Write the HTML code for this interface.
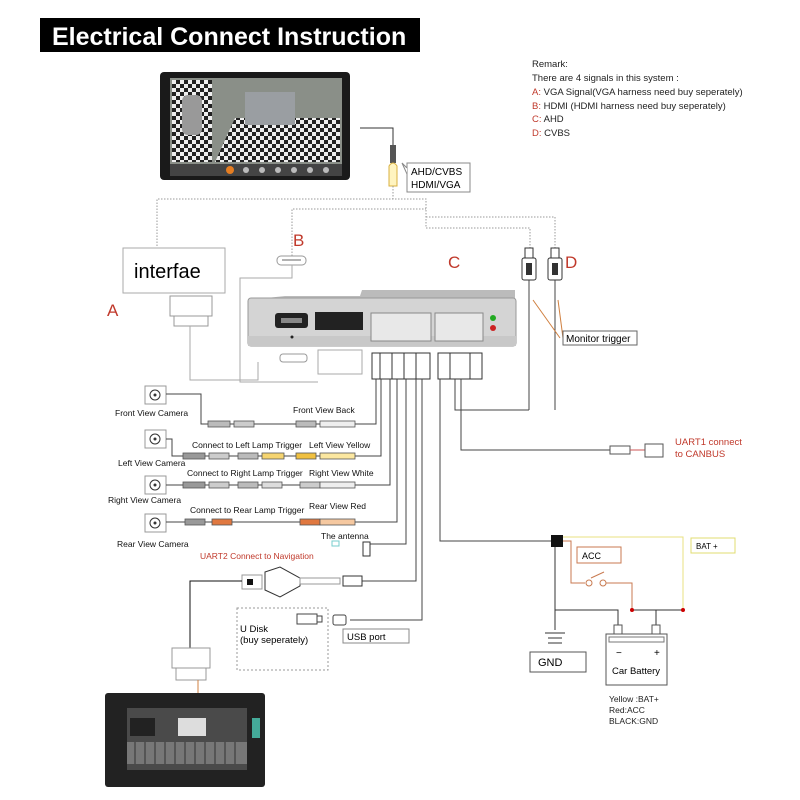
<!DOCTYPE html>
<html><head><meta charset="utf-8"><style>
body{margin:0;background:#fff}
svg{display:block}
text{font-family:"Liberation Sans",sans-serif}
</style></head><body>
<svg width="800" height="800" viewBox="0 0 800 800" xmlns="http://www.w3.org/2000/svg">
<defs>
<pattern id="chk" width="8" height="8" patternUnits="userSpaceOnUse"><rect width="8" height="8" fill="#eee"/><rect width="4" height="4" fill="#222"/><rect x="4" y="4" width="4" height="4" fill="#222"/></pattern>
</defs>
<rect width="800" height="800" fill="#fff"/>
<!-- title -->
<rect x="40" y="18" width="380" height="34" fill="#000"/>
<text x="52" y="45" font-size="25" font-weight="bold" fill="#fff">Electrical Connect Instruction</text>
<!-- remarks -->
<g font-size="9.5" fill="#222">
<text x="532" y="67">Remark:</text>
<text x="532" y="81">There are 4 signals in this system :</text>
<text x="532" y="95"><tspan fill="#c0392b">A:</tspan> VGA Signal(VGA harness need buy seperately)</text>
<text x="532" y="109"><tspan fill="#c0392b">B:</tspan> HDMI (HDMI harness need buy seperately)</text>
<text x="532" y="122"><tspan fill="#c0392b">C:</tspan> AHD</text>
<text x="532" y="136"><tspan fill="#c0392b">D:</tspan> CVBS</text>
</g>
<!-- top monitor -->
<rect x="160" y="72" width="190" height="108" rx="4" fill="#1a1a1a"/>
<rect x="170" y="78" width="172" height="86" fill="#8a8f88"/>
<rect x="172" y="80" width="40" height="82" fill="url(#chk)"/>
<rect x="182" y="95" width="20" height="40" rx="6" fill="#999"/>
<path d="M215,162 L235,118 L340,118 L340,162 Z" fill="url(#chk)"/>
<rect x="245" y="92" width="50" height="33" fill="#9a9ea2"/>
<rect x="170" y="164" width="172" height="12" fill="#444"/>
<circle cx="230" cy="170" r="4" fill="#e67e22"/>
<g fill="#bbb"><circle cx="246" cy="170" r="3"/><circle cx="262" cy="170" r="3"/><circle cx="278" cy="170" r="3"/><circle cx="294" cy="170" r="3"/><circle cx="310" cy="170" r="3"/><circle cx="326" cy="170" r="3"/></g>
<!-- cable to AHD -->
<polyline points="360,128 393,128 393,145" fill="none" stroke="#333" stroke-width="1"/>
<rect x="390" y="145" width="6" height="18" fill="#555"/>
<path d="M389,166 Q393,160 397,166 L397,186 L389,186 Z" fill="#fff4c0" stroke="#d8b040"/>
<rect x="407" y="163" width="63" height="29" fill="#fff" stroke="#888"/>
<path d="M407,168 L402,163 L407,174" fill="#fff" stroke="#888"/>
<text x="411" y="175" font-size="10">AHD/CVBS</text>
<text x="411" y="188" font-size="10">HDMI/VGA</text>
<!-- dotted lines -->
<g fill="none" stroke="#999" stroke-width="1" stroke-dasharray="1.5,1.5">
<polyline points="393,186 393,199"/>
<polyline points="157,258 157,199 426,199 426,228 530,228 530,251"/>
<polyline points="426,217 555,217 555,251"/>
<polyline points="292,265 292,209 426,209"/>
</g>
<!-- interfae -->
<rect x="123" y="248" width="102" height="45" fill="#fff" stroke="#aaa"/>
<text x="134" y="278" font-size="20">interfae</text>
<rect x="170" y="296" width="42" height="20" fill="#fff" stroke="#999"/>
<rect x="174" y="316" width="34" height="10" fill="#fff" stroke="#999"/>
<g font-size="17" fill="#c0392b">
<text x="107" y="316">A</text><text x="293" y="246">B</text><text x="448" y="268">C</text><text x="565" y="268">D</text>
</g>
<rect x="277" y="256" width="29" height="9" rx="4" fill="#fff" stroke="#999"/>
<line x1="282" y1="260" x2="301" y2="260" stroke="#666"/>
<polyline points="292,265 292,278 240,278 240,382 318,382" fill="none" stroke="#aaa"/>
<polyline points="190,326 190,380 258,380 258,362" fill="none" stroke="#aaa"/>
<!-- main box -->
<path d="M285,296 L360,296 L362,290 L515,290 L515,300 L248,300 Z" fill="#bbb"/>
<rect x="248" y="298" width="268" height="48" rx="3" fill="#d4d4d4" stroke="#999"/>
<rect x="248" y="336" width="268" height="10" fill="#c8c8c8"/>
<rect x="275" y="313" width="33" height="15" rx="3" fill="#222"/>
<rect x="281" y="318" width="21" height="5" fill="#888"/>
<rect x="315" y="312" width="48" height="18" fill="#222"/>
<circle cx="292" cy="337" r="1.5" fill="#222"/>
<rect x="371" y="313" width="60" height="28" fill="#e8e8e8" stroke="#888"/>
<rect x="435" y="313" width="48" height="28" fill="#e8e8e8" stroke="#888"/>
<circle cx="493" cy="318" r="3" fill="#2a2"/><circle cx="493" cy="328" r="3" fill="#c22"/>
<!-- under-box connectors -->
<rect x="280" y="354" width="27" height="8" rx="3" fill="#fff" stroke="#999"/>
<rect x="318" y="350" width="44" height="24" fill="#fff" stroke="#aaa"/>
<rect x="372" y="353" width="58" height="26" fill="#fff" stroke="#333"/>
<rect x="438" y="353" width="44" height="26" fill="#fff" stroke="#333"/>
<g stroke="#333"><line x1="380" y1="353" x2="380" y2="379"/><line x1="392" y1="353" x2="392" y2="379"/><line x1="404" y1="353" x2="404" y2="379"/><line x1="416" y1="353" x2="416" y2="379"/><line x1="450" y1="353" x2="450" y2="379"/><line x1="470" y1="353" x2="470" y2="379"/></g>
<!-- RCA plugs -->
<g>
<rect x="525" y="248" width="8" height="10" fill="#fff" stroke="#333"/>
<rect x="522" y="258" width="14" height="22" rx="2" fill="#fff" stroke="#333"/><rect x="526" y="263" width="6" height="12" fill="#333"/>
<rect x="551" y="248" width="8" height="10" fill="#fff" stroke="#333"/>
<rect x="548" y="258" width="14" height="22" rx="2" fill="#fff" stroke="#333"/><rect x="552" y="263" width="6" height="12" fill="#333"/>
</g>
<g fill="none" stroke="#444">
<line x1="529" y1="280" x2="529" y2="410"/><line x1="555" y1="280" x2="555" y2="410"/>
</g>
<path d="M533,300 L560,338 M558,300 L563,338" stroke="#d08040" fill="none"/>
<rect x="563" y="331" width="74" height="14" fill="#fff" stroke="#666"/>
<text x="566" y="342" font-size="10">Monitor trigger</text>
<!-- harness lines -->
<g fill="none" stroke="#444" stroke-width="1">
<polyline points="376,379 376,424 340,424"/>
<polyline points="381,379 381,456 340,456"/>
<polyline points="390,379 390,485 340,485"/>
<polyline points="397,379 397,522 340,522"/>
<polyline points="406,379 406,544 368,544"/>
<polyline points="416,379 416,581 362,581"/>
<polyline points="422,379 422,620 350,620"/>
<polyline points="455,379 455,410 529,410"/>
<polyline points="461,379 461,450 610,450"/>
<polyline points="440,379 440,541 551,541"/>
</g>
<!-- cameras -->
<g fill="#fff" stroke="#999">
<rect x="145" y="386" width="21" height="18"/><rect x="145" y="430" width="21" height="18"/><rect x="145" y="476" width="21" height="18"/><rect x="145" y="514" width="21" height="18"/>
</g>
<g fill="none" stroke="#333"><circle cx="155" cy="395" r="5"/><circle cx="155" cy="439" r="5"/><circle cx="155" cy="485" r="5"/><circle cx="155" cy="523" r="5"/></g>
<g fill="#333"><circle cx="155" cy="395" r="1.5"/><circle cx="155" cy="439" r="1.5"/><circle cx="155" cy="485" r="1.5"/><circle cx="155" cy="523" r="1.5"/></g>
<g fill="none" stroke="#444">
<polyline points="166,394 201,394 201,424 340,424"/>
<polyline points="166,439 172,439 172,456 340,456"/>
<polyline points="166,485 340,485"/>
<polyline points="166,522 340,522"/>
</g>
<!-- connector pieces -->
<g stroke="#555" stroke-width="0.8">
<rect x="208" y="421" width="22" height="6" fill="#bbb"/><rect x="234" y="421" width="20" height="6" fill="#ccc"/><rect x="296" y="421" width="20" height="6" fill="#bbb"/><rect x="320" y="421" width="35" height="6" fill="#eee"/>
<rect x="183" y="453" width="22" height="6" fill="#999"/><rect x="209" y="453" width="20" height="6" fill="#ccc"/><rect x="238" y="453" width="20" height="6" fill="#bbb"/><rect x="262" y="453" width="22" height="6" fill="#f5d470"/><rect x="296" y="453" width="20" height="6" fill="#f0c040"/><rect x="320" y="453" width="35" height="6" fill="#fbe7a0"/>
<rect x="183" y="482" width="22" height="6" fill="#999"/><rect x="209" y="482" width="20" height="6" fill="#ccc"/><rect x="238" y="482" width="20" height="6" fill="#bbb"/><rect x="262" y="482" width="20" height="6" fill="#ddd"/><rect x="300" y="482" width="20" height="6" fill="#ccc"/><rect x="320" y="482" width="35" height="6" fill="#eee"/>
<rect x="185" y="519" width="20" height="6" fill="#999"/><rect x="212" y="519" width="20" height="6" fill="#e07840"/><rect x="300" y="519" width="20" height="6" fill="#e07840"/><rect x="320" y="519" width="35" height="6" fill="#f5c8a0"/>
</g>
<g font-size="8.5" fill="#111">
<text x="115" y="416">Front View Camera</text>
<text x="293" y="413">Front View Back</text>
<text x="192" y="448">Connect to Left Lamp Trigger</text>
<text x="309" y="448">Left View Yellow</text>
<text x="118" y="466">Left View Camera</text>
<text x="187" y="476">Connect to Right Lamp Trigger</text>
<text x="309" y="476">Right View White</text>
<text x="108" y="503">Right View Camera</text>
<text x="190" y="513">Connect to Rear Lamp Trigger</text>
<text x="309" y="509">Rear View Red</text>
<text x="117" y="547">Rear View Camera</text>
<text x="321" y="539">The antenna</text>
<text x="200" y="559" fill="#c0392b">UART2 Connect to Navigation</text>
</g>
<rect x="332" y="541" width="7" height="5" fill="#fff" stroke="#7cc"/>
<rect x="363" y="542" width="7" height="14" fill="#fff" stroke="#333"/>
<!-- UART2 connector -->
<rect x="242" y="575" width="20" height="14" fill="#fff" stroke="#999"/><rect x="247" y="579" width="6" height="6" fill="#111"/>
<path d="M265,572 L280,567 L300,578 L300,586 L280,597 L265,590 Z" fill="#fff" stroke="#333"/>
<rect x="300" y="578" width="40" height="6" fill="#fff" stroke="#999"/>
<rect x="343" y="576" width="19" height="10" fill="#fff" stroke="#333"/>
<polyline points="242,581 190,581 190,648" fill="none" stroke="#111"/>
<rect x="172" y="648" width="38" height="20" fill="#fff" stroke="#999"/><rect x="176" y="668" width="30" height="12" fill="#fff" stroke="#999"/>
<line x1="198" y1="680" x2="198" y2="693" stroke="#d08040"/>
<!-- U disk -->
<rect x="237" y="608" width="91" height="62" fill="none" stroke="#999" stroke-dasharray="2,2"/>
<text x="240" y="632" font-size="9.5">U Disk</text>
<text x="240" y="643" font-size="9.5">(buy seperately)</text>
<rect x="297" y="614" width="20" height="10" fill="#fff" stroke="#444"/><rect x="317" y="616" width="5" height="6" fill="#fff" stroke="#444"/>
<rect x="333" y="615" width="13" height="10" rx="2" fill="#fff" stroke="#444"/>
<rect x="343" y="629" width="66" height="14" fill="#fff" stroke="#888"/>
<text x="347" y="640" font-size="9.5">USB port</text>
<!-- bottom head unit -->
<rect x="105" y="693" width="160" height="94" rx="3" fill="#222"/>
<rect x="127" y="708" width="120" height="62" fill="#4a4a4a"/>
<rect x="130" y="718" width="25" height="18" fill="#222"/>
<rect x="178" y="718" width="28" height="18" fill="#ddd"/>
<rect x="252" y="718" width="8" height="20" fill="#4a9"/>
<g fill="#777"><rect x="127" y="742" width="120" height="22"/></g>
<g stroke="#333"><line x1="135" y1="742" x2="135" y2="764"/><line x1="145" y1="742" x2="145" y2="764"/><line x1="155" y1="742" x2="155" y2="764"/><line x1="165" y1="742" x2="165" y2="764"/><line x1="175" y1="742" x2="175" y2="764"/><line x1="185" y1="742" x2="185" y2="764"/><line x1="195" y1="742" x2="195" y2="764"/><line x1="205" y1="742" x2="205" y2="764"/><line x1="215" y1="742" x2="215" y2="764"/><line x1="225" y1="742" x2="225" y2="764"/><line x1="235" y1="742" x2="235" y2="764"/></g>
<!-- UART1 -->
<rect x="610" y="446" width="20" height="8" fill="#fff" stroke="#555"/>
<line x1="630" y1="450" x2="645" y2="450" stroke="#c55"/>
<rect x="645" y="444" width="18" height="13" fill="#fff" stroke="#555"/>
<text x="675" y="445" font-size="9.5" fill="#c0392b">UART1 connect</text>
<text x="675" y="457" font-size="9.5" fill="#c0392b">to CANBUS</text>
<!-- power -->
<rect x="551" y="535" width="12" height="12" fill="#111"/>
<polyline points="563,537 683,537 683,610" fill="none" stroke="#e8e080"/>
<rect x="691" y="538" width="44" height="15" fill="#fff" stroke="#e0dc70"/>
<text x="696" y="549" font-size="8">BAT +</text>
<polyline points="563,541 571,541 571,583 585,583" fill="none" stroke="#c87a50"/>
<circle cx="589" cy="583" r="3" fill="#fff" stroke="#c87a50"/><circle cx="603" cy="583" r="3" fill="#fff" stroke="#c87a50"/>
<line x1="591" y1="578" x2="604" y2="572" stroke="#c87a50"/>
<polyline points="606,583 632,583 632,610" fill="none" stroke="#c87a50"/>
<rect x="577" y="547" width="44" height="16" fill="#fff" stroke="#c87a50"/>
<text x="582" y="559" font-size="9">ACC</text>
<polyline points="555,547 555,630" fill="none" stroke="#333"/>
<polyline points="555,610 618,610 618,630" fill="none" stroke="#333"/>
<line x1="632" y1="610" x2="683" y2="610" stroke="#333"/>
<line x1="656" y1="610" x2="656" y2="630" stroke="#333"/>
<circle cx="632" cy="610" r="2" fill="#c00"/><circle cx="683" cy="610" r="2" fill="#c00"/>
<g stroke="#333"><line x1="545" y1="633" x2="565" y2="633"/><line x1="548" y1="638" x2="562" y2="638"/><line x1="548" y1="643" x2="562" y2="643"/></g>
<rect x="530" y="652" width="56" height="20" fill="#fff" stroke="#555"/>
<text x="538" y="666" font-size="11">GND</text>
<rect x="614" y="625" width="8" height="9" fill="#fff" stroke="#555"/><rect x="652" y="625" width="8" height="9" fill="#fff" stroke="#555"/>
<rect x="606" y="634" width="61" height="51" fill="#fff" stroke="#555"/>
<rect x="609" y="637" width="55" height="5" fill="#fff" stroke="#777"/>
<text x="616" y="656" font-size="10">−</text><text x="654" y="656" font-size="10">+</text>
<text x="612" y="674" font-size="9.5">Car Battery</text>
<g font-size="8.5" fill="#222"><text x="609" y="702">Yellow :BAT+</text><text x="609" y="713">Red:ACC</text><text x="609" y="724">BLACK:GND</text></g>
</svg>
</body></html>
